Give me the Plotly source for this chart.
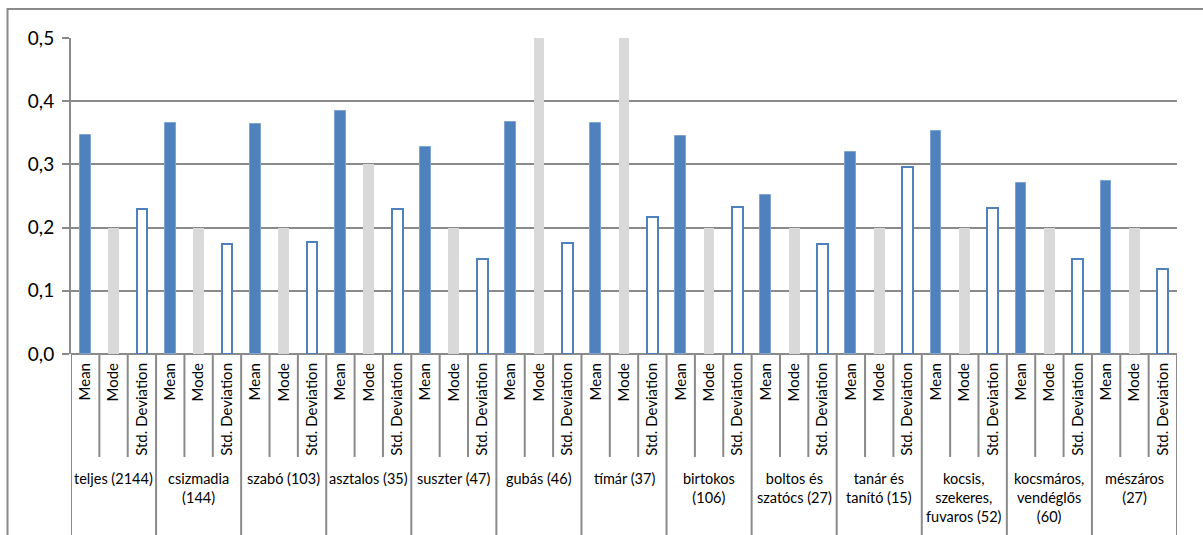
import plotly.graph_objects as go

groups = ["teljes (2144)", "csizmadia<br>(144)", "szabó (103)", "asztalos (35)", "suszter (47)",
          "gubás (46)", "tímár (37)", "birtokos<br>(106)", "boltos és<br>szatócs (27)",
          "tanár és<br>tanító (15)", "kocsis,<br>szekeres,<br>fuvaros (52)",
          "kocsmáros,<br>vendéglős<br>(60)", "mészáros<br>(27)"]
measures = ["Mean", "Mode", "Std. Deviation"]

mean_vals = [0.347, 0.366, 0.364, 0.385, 0.327, 0.367, 0.365, 0.345, 0.252, 0.319, 0.353, 0.271, 0.273]
mode_vals = [0.2, 0.2, 0.2, 0.3, 0.2, 0.5, 0.5, 0.2, 0.2, 0.2, 0.2, 0.2, 0.2]
std_vals = [0.230, 0.174, 0.177, 0.229, 0.150, 0.175, 0.217, 0.232, 0.174, 0.296, 0.231, 0.151, 0.135]

FONT = "Lato, Carlito, Calibri, sans-serif"
GRID = "#8a8a8a"
n = len(groups)
k = len(measures)

fig = go.Figure()
series = [
    (mean_vals, dict(color="#4F81BD", line=dict(color="#7FA3D3", width=1))),
    (mode_vals, dict(color="#D9D9D9", line=dict(width=0))),
    (std_vals, dict(color="white", line=dict(color="#4F81BD", width=2))),
]
for j, (vals, marker) in enumerate(series):
    fig.add_trace(go.Bar(
        x=[g * k + j for g in range(n)], y=vals, name=measures[j],
        marker=marker, width=0.38, showlegend=False,
    ))

tickvals = list(range(n * k))
ticktext = [measures[i % k] for i in tickvals]

shapes = []
for i in range(n * k + 1):
    xpos = i - 0.5
    is_group = (i % k == 0)
    shapes.append(dict(type="line", xref="x", yref="paper", x0=xpos, x1=xpos,
                       y0=0, y1=-0.66 if is_group else -0.326,
                       line=dict(color=GRID, width=2)))
shapes.append(dict(type="rect", xref="paper", yref="paper", x0=-0.0574, x1=1.1,
                   y0=-0.9, y1=1.092, line=dict(color=GRID, width=2), layer="below"))

annotations = []
for g, name in enumerate(groups):
    annotations.append(dict(x=g * k + 1, y=-0.362, xref="x", yref="paper",
                            text=name, showarrow=False, yanchor="top", xanchor="center",
                            font=dict(family=FONT, size=14.5, color="black")))

fig.update_layout(
    width=1203, height=535,
    margin=dict(l=71, r=26, t=38, b=181),
    paper_bgcolor="white", plot_bgcolor="white",
    separators=",.",
    bargap=0, barmode="overlay",
    font=dict(family=FONT, color="black"),
    shapes=shapes, annotations=annotations,
    xaxis=dict(range=[-0.5, n * k - 0.5], tickvals=tickvals, ticktext=ticktext,
               tickangle=-90, showgrid=False, zeroline=False,
               showline=False, ticks="", ticklabelstandoff=5,
               tickfont=dict(family=FONT, size=15, color="black"), fixedrange=True),
    yaxis=dict(range=[0, 0.5], dtick=0.1, tickformat=".1f", showgrid=True,
               gridcolor=GRID, gridwidth=2, zeroline=True, zerolinecolor=GRID, zerolinewidth=2,
               showline=True, linecolor=GRID, linewidth=2,
               ticks="outside", ticklen=7, tickcolor=GRID, tickwidth=2,
               tickfont=dict(family=FONT, size=19, color="black"), ticklabelstandoff=4),
)

fig.write_html("out.html", config={"displayModeBar": False},
               post_script="document.body.style.margin='0px';document.body.style.overflow='hidden';")
